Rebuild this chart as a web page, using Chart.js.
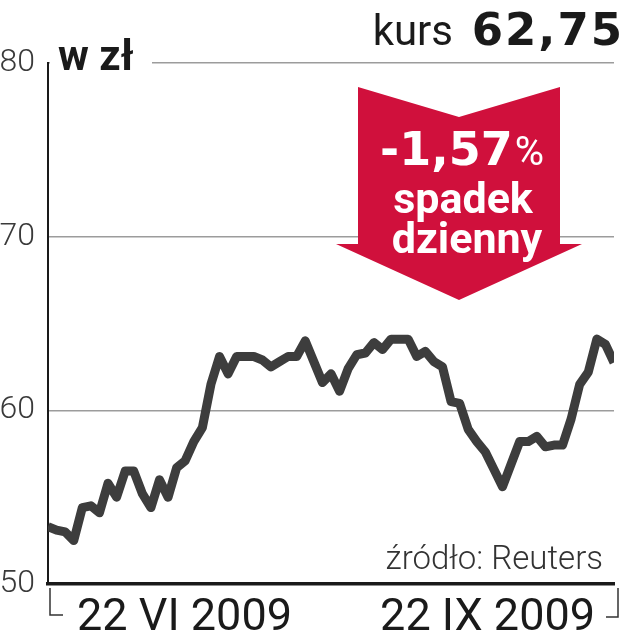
<!DOCTYPE html>
<html lang="pl">
<head>
<meta charset="utf-8">
<title>kurs 62,75</title>
<script src="https://cdn.jsdelivr.net/npm/chart.js@4"></script>
<style>
    html, body { margin: 0; padding: 0; background: #fff; }
    #grafico { display: block; }
</style>
</head>
<body>
<canvas id="grafico" width="628" height="640"></canvas>
<script>
// Cierres diarios (zł), del 22 VI 2009 al 22 IX 2009
const cierres = [
    53.3, 53.1, 53.0, 52.5, 54.4, 54.5, 54.1, 55.8, 55.0, 56.5,
    56.5, 55.2, 54.4, 56.0, 55.0, 56.7, 57.1, 58.2, 59.0, 61.5,
    63.1, 62.1, 63.1, 63.1, 63.1, 62.9, 62.5, 62.8, 63.1, 63.1,
    64.0, 62.8, 61.6, 62.1, 61.1, 62.4, 63.2, 63.3, 63.9, 63.5,
    64.1, 64.1, 64.1, 63.1, 63.4, 62.8, 62.5, 60.5, 60.4, 58.9,
    58.2, 57.6, 56.6, 55.6, 56.9, 58.2, 58.2, 58.5, 57.9, 58.0,
    58.0, 59.5, 61.5, 62.2, 64.1, 63.8, 62.75
];
const ticksY = [50, 60, 70, 80];
const etiquetasX = ['22 VI 2009', '22 IX 2009'];
const unidad = 'w zł';
const tituloKurs = 'kurs';
const valorKurs = '62,75';
const cambio = '-1,57';
const cambioTexto = ['spadek', 'dzienny'];
const fuente = 'źródło: Reuters';

// Dibuja textos, flecha y corchetes encima del gráfico
const decoracion = {
    id: 'decoracion',
    afterDraw(chart) {
        const { ctx, chartArea } = chart;
        const escalaY = chart.scales.y;
        const top = escalaY.getPixelForValue(80);
        ctx.save();

        // tapar la línea de 80 detrás de "w zł"
        ctx.fillStyle = '#fff';
        ctx.fillRect(chartArea.left + 2, top - 3, 102, 6);

        ctx.fillStyle = '#1a1a1a';
        ctx.textBaseline = 'alphabetic';
        ctx.textAlign = 'left';
        ctx.font = 'bold 42px Roboto';
        ctx.fillText(unidad, chartArea.left + 10, 70);

        // kurs
        ctx.textAlign = 'right';
        ctx.font = 'bold 45px "DejaVu Sans"';
        ctx.letterSpacing = '2px';
        ctx.fillText(valorKurs, 624, 45);
        ctx.letterSpacing = '0px';
        ctx.font = '42px Roboto';
        ctx.fillText(tituloKurs, 453, 45);

        // flecha roja
        ctx.fillStyle = '#d0103c';
        ctx.beginPath();
        ctx.moveTo(358, 87);
        ctx.lineTo(459, 117);
        ctx.lineTo(560, 87);
        ctx.lineTo(560, 244);
        ctx.lineTo(582, 244);
        ctx.lineTo(459, 300);
        ctx.lineTo(336, 244);
        ctx.lineTo(358, 244);
        ctx.closePath();
        ctx.fill();

        ctx.fillStyle = '#fff';
        ctx.font = 'bold 46px "DejaVu Sans"';
        const anchoCambio = ctx.measureText(cambio).width;
        ctx.font = '40px Roboto';
        const anchoPct = ctx.measureText('%').width;
        const inicio = 462 - (anchoCambio + anchoPct + 2) / 2;
        ctx.textAlign = 'left';
        ctx.font = 'bold 46px "DejaVu Sans"';
        ctx.fillText(cambio, inicio, 165);
        ctx.font = '40px Roboto';
        ctx.fillText('%', inicio + anchoCambio + 2, 165);

        ctx.textAlign = 'center';
        ctx.font = 'bold 43px Roboto';
        ctx.fillText(cambioTexto[0], 463, 213);
        ctx.fillText(cambioTexto[1], 467, 253);

        // fuente
        ctx.fillStyle = '#333';
        ctx.textAlign = 'right';
        ctx.font = '300 33px Roboto';
        ctx.fillText(fuente, 603, 569);

        // fechas y corchetes
        const abajo = chartArea.bottom;
        ctx.strokeStyle = '#333';
        ctx.lineWidth = 1.5;
        ctx.beginPath();
        ctx.moveTo(chartArea.left + 2, abajo + 4);
        ctx.lineTo(chartArea.left + 2, abajo + 31);
        ctx.lineTo(chartArea.left + 15, abajo + 31);
        ctx.moveTo(chartArea.right + 4, abajo + 4);
        ctx.lineTo(chartArea.right + 4, abajo + 33);
        ctx.lineTo(chartArea.right - 8, abajo + 33);
        ctx.stroke();

        ctx.fillStyle = '#1a1a1a';
        ctx.font = '45px Roboto';
        ctx.textAlign = 'left';
        ctx.fillText(etiquetasX[0], chartArea.left + 29, abajo + 46);
        ctx.textAlign = 'right';
        ctx.fillText(etiquetasX[1], chartArea.right - 19, abajo + 46);

        ctx.restore();
    }
};

const ctx = document.getElementById('grafico').getContext('2d');
new Chart(ctx, {
    type: 'line',
    data: {
        datasets: [{
            data: cierres.map((v, i) => ({ x: i, y: v })),
            borderColor: '#3d3d3d',
            borderWidth: 9,
            borderJoinStyle: 'round',
            pointRadius: 0,
            tension: 0,
            fill: false
        }]
    },
    options: {
        responsive: false,
        animation: false,
        layout: { padding: { top: 63, right: 14, bottom: 0, left: 0 } },
        plugins: {
            legend: { display: false },
            tooltip: { enabled: false }
        },
        scales: {
            x: {
                type: 'linear',
                min: 0,
                max: cierres.length - 1,
                grid: { display: false },
                ticks: { display: false },
                border: { display: true, color: '#1a1a1a', width: 3.5 },
                afterFit: s => { s.height = 56; }
            },
            y: {
                min: 50,
                max: 80,
                afterBuildTicks: s => { s.ticks = ticksY.map(v => ({ value: v })); },
                grid: {
                    color: c => c.tick && c.tick.value === 50 ? 'rgba(0,0,0,0)' : '#9c9c9c',
                    lineWidth: 1.5,
                    drawTicks: false
                },
                border: { color: '#1a1a1a', width: 2 },
                ticks: {
                    padding: 13,
                    color: '#3a3a3a',
                    font: { family: 'Roboto', size: 32, weight: '300' }
                },
                afterFit: s => { s.width = 48; }
            }
        }
    },
    plugins: [decoracion]
});
</script>
</body>
</html>
